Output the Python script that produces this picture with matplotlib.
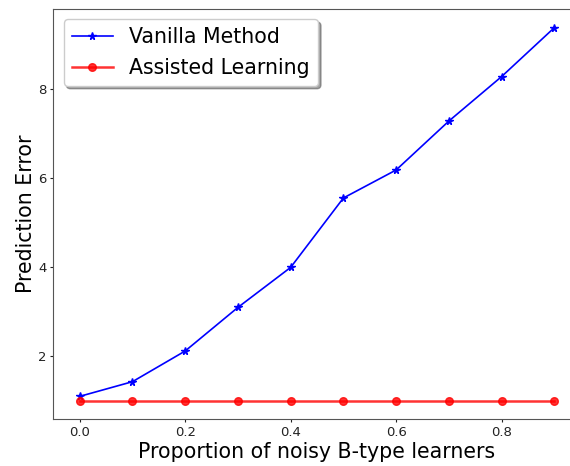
import matplotlib
matplotlib.use("Agg")
import matplotlib.pyplot as plt

proportions = [0.0, 0.1, 0.2, 0.3, 0.4, 0.5, 0.6, 0.7, 0.8, 0.9]
vanilla = [1.10, 1.43, 2.12, 3.10, 4.00, 5.56, 6.19, 7.29, 8.29, 9.39]
assisted = [1.00, 1.00, 1.00, 1.00, 1.00, 1.00, 1.00, 1.00, 1.00, 1.00]
xticks = [0.0, 0.2, 0.4, 0.6, 0.8]
yticks = [2, 4, 6, 8]

fig = plt.figure(figsize=(5.70, 4.66), dpi=100)
ax = fig.add_axes([0.0935, 0.0998, 0.9254, 0.881])

ax.plot(proportions, vanilla, color='blue', marker='*', markersize=5.5, linewidth=1.2, label='Vanilla Method')
ax.plot(proportions, assisted, color='red', marker='o', markersize=5.5, linewidth=1.8, alpha=0.8, label='Assisted Learning')

ax.set_xlim(-0.05, 0.95)
ax.set_xticks(xticks)
ax.set_yticks(yticks)
ax.tick_params(labelsize=9.5, colors='#222222', length=2.5, pad=2.5)
for s in ax.spines.values():
    s.set_color('#555555')

ax.set_xlabel('Proportion of noisy B-type learners', fontsize=14.8, labelpad=2)
ax.set_ylabel('Prediction Error', fontsize=14.8, labelpad=1.5)
ax.legend(loc='upper left', fontsize=14.8, shadow=True, fancybox=True)

fig.savefig('out.png', dpi=100)
